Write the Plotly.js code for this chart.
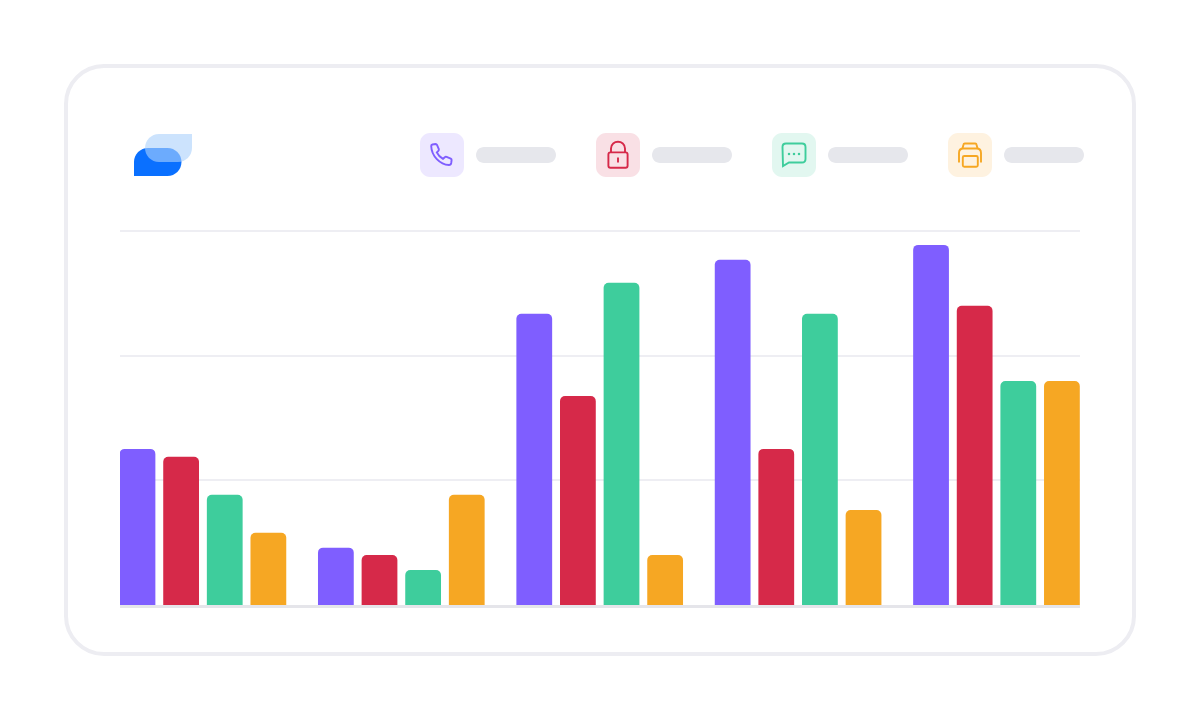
<!DOCTYPE html>
<html>
<head>
<meta charset="utf-8">
<script src="https://cdn.plot.ly/plotly-3.0.1.min.js"></script>
<style>html,body{margin:0;padding:0;background:#fff}#chart{width:1200px;height:720px}</style>
</head>
<body>
<div id="chart"></div>
<script>
const categories = ['A', 'B', 'C', 'D', 'E'];
const seriesNames = ['Calls', 'Security', 'Messages', 'Print'];
const purpleValues = [31.3, 11.5, 58.4, 69.2, 72.2];
const redValues = [29.7, 10, 41.9, 31.3, 60];
const greenValues = [22.1, 7, 64.6, 58.4, 44.9];
const orangeValues = [14.5, 22.1, 10, 19.05, 44.9];
const seriesColors = ['#7F5EFF', '#D62949', '#3ECD9C', '#F6A723'];
const yTicks = [25, 50, 75];

const W = 1200, H = 720, L = 120, R = 1080, T = 200, B = 605;
const px = x => (x - L) / (R - L);
const py = y => (B - y) / (B - T);
// converts a path written in page pixels to paper units
function toPaper(d) {
  return d.replace(/(-?[\d.]+),(-?[\d.]+)/g, (m, a, b) => px(+a).toFixed(6) + ',' + py(+b).toFixed(6));
}
function shape(d, fill, line, width, opacity) {
  const s = {type: 'path', xref: 'paper', yref: 'paper', layer: 'below', path: toPaper(d),
    fillcolor: fill || 'rgba(0,0,0,0)', line: {color: line || 'rgba(0,0,0,0)', width: width || 0}};
  if (opacity !== undefined) s.opacity = opacity;
  return s;
}
const K = 0.5523;
// rounded rectangle with separate corner radii: tl, tr, br, bl
function rr(x, y, w, h, tl, tr, br, bl) {
  const x2 = x + w, y2 = y + h, c = r => r * (1 - K);
  let d = `M${x + tl},${y} L${x2 - tr},${y} `;
  if (tr) d += `C${x2 - c(tr)},${y} ${x2},${y + c(tr)} ${x2},${y + tr} `;
  d += `L${x2},${y2 - br} `;
  if (br) d += `C${x2},${y2 - c(br)} ${x2 - c(br)},${y2} ${x2 - br},${y2} `;
  d += `L${x + bl},${y2} `;
  if (bl) d += `C${x + c(bl)},${y2} ${x},${y2 - c(bl)} ${x},${y2 - bl} `;
  d += `L${x},${y + tl} `;
  if (tl) d += `C${x},${y + c(tl)} ${x + c(tl)},${y} ${x + tl},${y} `;
  return d + 'Z';
}
const shapes = [];
// card
shapes.push(shape(rr(66, 66, 1068, 588, 38, 38, 38, 38), '#FFFFFF', '#EDEDF2', 4));
// logo
shapes.push(shape(rr(134, 148, 47.5, 28, 14, 14, 14, 0), '#0A70FF'));
shapes.push(shape(rr(145, 134, 47, 28, 14, 0, 14, 14), 'rgba(171,210,252,0.61)'));
// legend tiles and placeholder pills
const tileX = [420, 596, 772, 948];
const tileFill = ['#EDE8FF', '#F9E0E5', '#E2F7F0', '#FEF2E0'];
tileX.forEach((x, i) => {
  shapes.push(shape(rr(x, 133, 44, 44, 10, 10, 10, 10), tileFill[i]));
  shapes.push(shape(rr(x + 56, 147, 80, 16, 8, 8, 8, 8), '#E6E7EC'));
});
const sw = 1.9;
// phone
shapes.push(shape('M432.5,144.5 L435.5,144 C436.3,144 436.8,144.4 437,145 L438.8,149 C439,149.8 438.9,150.3 438.4,150.8 L436.8,152.4 C438,155 440,157.2 443,158.8 L444.8,157.2 C445.3,156.7 445.9,156.6 446.6,156.9 L450.7,158.6 C451.4,159 451.7,159.5 451.6,160.2 L451.2,163 C451,164.2 450.2,165 449,165 C440,164.6 431.5,156 431.2,146 C431.2,145.2 431.7,144.7 432.5,144.5 Z', null, '#7F5EFF', sw));
// lock
shapes.push(shape(rr(608.4, 152.4, 19.2, 15.4, 2, 2, 2, 2), null, '#D62949', sw));
shapes.push(shape('M611,152 L611,148.5 C611,139.5 625,139.5 625,148.5 L625,152', null, '#D62949', sw));
shapes.push(shape('M618,157.5 L618,162.5', null, '#D62949', sw));
// message bubble
shapes.push(shape('M786,143.5 L802,143.5 C804.2,143.5 805.5,144.8 805.5,147 L805.5,159 C805.5,161.2 804.2,162.5 802,162.5 L789,162.5 L783,166 L782.5,147 C782.5,144.8 783.8,143.5 786,143.5 Z', null, '#3ECD9C', sw));
[789, 794, 799].forEach(x => {
  shapes.push(shape(`M${x - 1.1},152.9 L${x + 1.1},152.9 L${x + 1.1},155.1 L${x - 1.1},155.1 Z`, '#3ECD9C'));
});
// printer
shapes.push(shape(rr(962.8, 156, 15, 10.8, 1.5, 1.5, 1.5, 1.5), null, '#F6A723', sw));
shapes.push(shape('M959,162.5 L959,153 C959,150 961,148.5 963.5,148.5 L976.5,148.5 C979,148.5 981,150 981,153 L981,162.5', null, '#F6A723', sw));
shapes.push(shape('M962.5,148.5 L963.5,144.5 C963.6,143.8 964,143.5 964.8,143.5 L975.2,143.5 C976,143.5 976.4,143.8 976.5,144.5 L977.5,148.5', null, '#F6A723', sw));

const values = [purpleValues, redValues, greenValues, orangeValues];
const traces = values.map((v, i) => ({
  type: 'bar', x: categories, y: v, name: seriesNames[i],
  marker: {color: seriesColors[i], cornerradius: 5, line: {width: 0}},
  hoverinfo: 'y+name'
}));

const layout = {
  width: W, height: H, autosize: false,
  margin: {l: L, r: W - R, t: T, b: H - B, pad: 0},
  paper_bgcolor: '#FFFFFF', plot_bgcolor: 'rgba(0,0,0,0)',
  showlegend: false, barmode: 'group', bargap: 0.1204, bargroupgap: 0.18,
  xaxis: {type: 'category', range: [-0.418, 4.421], showticklabels: false, ticks: '',
    showgrid: false, zeroline: false, showline: true, linecolor: '#E5E5EA', linewidth: 3, fixedrange: true},
  yaxis: {range: [0, 81.2], tickvals: yTicks, showticklabels: false, ticks: '',
    showgrid: true, gridcolor: '#EEEEF3', gridwidth: 2, zeroline: false, showline: false, fixedrange: true},
  shapes: shapes
};
Plotly.newPlot('chart', traces, layout, {displayModeBar: false, staticPlot: true});
</script>
</body>
</html>
